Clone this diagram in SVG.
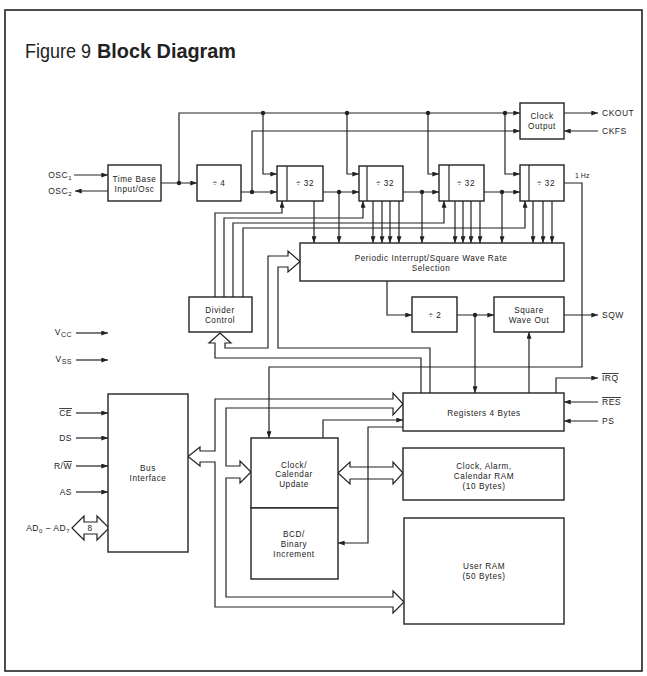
<svg xmlns="http://www.w3.org/2000/svg" width="647" height="676" viewBox="0 0 647 676">
<defs>
<marker id="ah" viewBox="0 0 8 6" refX="8" refY="3" markerWidth="7" markerHeight="5" markerUnits="userSpaceOnUse" orient="auto"><path d="M0,0 L8,3 L0,6 z" fill="#222"/></marker>
<style>
.l{fill:none;stroke:#222;stroke-width:1.2}
.a{marker-end:url(#ah)}
.bx{fill:#fff;stroke:#222;stroke-width:1.4}
.bus{fill:#fff;stroke:#222;stroke-width:1.2;stroke-linejoin:miter}
text{font-family:"Liberation Sans",Arial,sans-serif;fill:#222}
.t{font-size:8.2px;text-anchor:middle;letter-spacing:0.55px}
.p{font-size:8.5px;letter-spacing:0.5px}
.pe{font-size:8.5px;letter-spacing:0.5px;text-anchor:end}
.dot{fill:#222}
</style>
</defs>
<rect x="0" y="0" width="647" height="676" fill="#fff"/>
<rect x="5" y="10" width="637" height="661" fill="none" stroke="#222" stroke-width="1.6"/>
<text x="25" y="58" font-size="20" textLength="66" lengthAdjust="spacingAndGlyphs">Figure 9</text>
<text x="97" y="58" font-size="20" font-weight="bold" textLength="139" lengthAdjust="spacingAndGlyphs">Block Diagram</text>

<g id="connectors">
<path class="bus" d="M215,399 H393 V393 L403,404 L393,415 V408 H226 V466 H240 V461 L251,472 L240,483 V478 H226 V597 H393 V591 L404,602 L393,613 V607 H215 V462 H200 V466 L188,456.5 L200,447 V451 H215 Z"/>
<path class="l" d="M421,393 V358 H215 V343 H209 L220,333 L231,343 H225 V348 H268 V256 H288 V251 L300,261.5 L288,272 V267 H278 V348 H430 V393"/>
<path class="bus" d="M338,473 L350,462 V467 H393 V462 L403,473 L393,484 V479 H350 V484 Z"/>
<path class="bus" d="M72,528 L84,516 V522 H97 V516 L109,528 L97,540 V534 H84 V540 Z"/>
<path class="l a" d="M74,175 H108"/>
<path class="l a" d="M108,191 H75"/>
<path class="l a" d="M161,183 H197"/>
<path class="l a" d="M179,183 V113 H520"/>
<path class="l a" d="M252,192 V131 H520"/>
<path class="l a" d="M241,192 H277"/>
<path class="l a" d="M263,113 V174 H277"/>
<path class="l a" d="M323,192 H359"/>
<path class="l a" d="M347,113 V174 H359"/>
<path class="l a" d="M403,192 H439"/>
<path class="l a" d="M428,113 V174 H439"/>
<path class="l a" d="M484,192 H520"/>
<path class="l a" d="M505,113 V174 H520"/>
<path class="l a" d="M564,113 H598"/>
<path class="l a" d="M598,131 H564"/>
<path class="l a" d="M564,183 H582 V367 H269 V438"/>
<path class="l a" d="M314,201 V243"/>
<path class="l a" d="M339,192 V243"/>
<path class="l a" d="M373,201 V243"/>
<path class="l a" d="M382,201 V243"/>
<path class="l a" d="M390,201 V243"/>
<path class="l a" d="M399,201 V243"/>
<path class="l a" d="M422,192 V243"/>
<path class="l a" d="M455,201 V243"/>
<path class="l a" d="M463,201 V243"/>
<path class="l a" d="M471,201 V243"/>
<path class="l a" d="M480,201 V243"/>
<path class="l a" d="M502,192 V243"/>
<path class="l a" d="M533,201 V243"/>
<path class="l a" d="M543,201 V243"/>
<path class="l a" d="M552,201 V243"/>
<path class="l a" d="M215,297 V213 H282 V201"/>
<path class="l a" d="M224,297 V218 H363 V201"/>
<path class="l a" d="M233,297 V223 H444 V201"/>
<path class="l a" d="M243,297 V228 H525 V201"/>
<path class="l a" d="M387,281 V315 H412"/>
<path class="l a" d="M457,315 H494"/>
<path class="l a" d="M475,315 V393"/>
<path class="l a" d="M529,393 V332"/>
<path class="l a" d="M564,315 H598"/>
<path class="l a" d="M556,393 V378 H598"/>
<path class="l a" d="M598,402 H564"/>
<path class="l a" d="M598,421 H564"/>
<path class="l a" d="M323,438 V420 H403"/>
<path class="l a" d="M403,427 H368 V543 H338"/>
<path class="l a" d="M76,333 H108"/>
<path class="l a" d="M76,360 H108"/>
<path class="l a" d="M76,413 H108"/>
<path class="l a" d="M76,438 H108"/>
<path class="l a" d="M76,466 H108"/>
<path class="l a" d="M76,492 H108"/>
<circle class="dot" cx="179" cy="183" r="2.2"/>
<circle class="dot" cx="252" cy="192" r="2.2"/>
<circle class="dot" cx="263" cy="113" r="2.2"/>
<circle class="dot" cx="339" cy="192" r="2.2"/>
<circle class="dot" cx="347" cy="113" r="2.2"/>
<circle class="dot" cx="422" cy="192" r="2.2"/>
<circle class="dot" cx="428" cy="113" r="2.2"/>
<circle class="dot" cx="502" cy="192" r="2.2"/>
<circle class="dot" cx="505" cy="113" r="2.2"/>
<circle class="dot" cx="475" cy="315" r="2.2"/>
<text class="t" x="90" y="531">8</text>
</g>

<g id="timebase"><rect class="bx" x="108" y="165" width="53" height="36"/><text class="t" x="134.5" y="182">Time Base</text><text class="t" x="134.5" y="192">Input/Osc</text></g>
<g id="div4"><rect class="bx" x="197" y="165" width="44" height="36"/><text class="t" x="219" y="186">÷ 4</text></g>
<g id="div32a"><rect class="bx" x="277" y="166" width="46" height="35"/><path class="l" d="M287,166 V201"/><text class="t" x="305" y="186">÷ 32</text></g>
<g id="div32b"><rect class="bx" x="359" y="166" width="44" height="35"/><path class="l" d="M367,166 V201"/><text class="t" x="385" y="186">÷ 32</text></g>
<g id="div32c"><rect class="bx" x="439" y="165" width="45" height="36"/><path class="l" d="M449,165 V201"/><text class="t" x="466" y="186">÷ 32</text></g>
<g id="div32d"><rect class="bx" x="520" y="165" width="44" height="36"/><path class="l" d="M529,165 V201"/><text class="t" x="546" y="186">÷ 32</text></g>
<g id="clockout"><rect class="bx" x="520" y="103" width="44" height="36"/><text class="t" x="542" y="119">Clock</text><text class="t" x="542" y="129">Output</text></g>
<g id="periodic"><rect class="bx" x="300" y="243" width="264" height="38"/><text class="t" x="431" y="261">Periodic Interrupt/Square Wave Rate</text><text class="t" x="431" y="271">Selection</text></g>
<g id="divider"><rect class="bx" x="189" y="297" width="63" height="35"/><text class="t" x="220" y="313">Divider</text><text class="t" x="220" y="323">Control</text></g>
<g id="div2"><rect class="bx" x="412" y="297" width="45" height="35"/><text class="t" x="435" y="318">÷ 2</text></g>
<g id="sqwout"><rect class="bx" x="494" y="297" width="70" height="35"/><text class="t" x="529" y="313">Square</text><text class="t" x="529" y="323">Wave Out</text></g>
<g id="busif"><rect class="bx" x="108" y="394" width="80" height="158"/><text class="t" x="148" y="471">Bus</text><text class="t" x="148" y="481">Interface</text></g>
<g id="registers"><rect class="bx" x="403" y="393" width="161" height="38"/><text class="t" x="484" y="416">Registers 4 Bytes</text></g>
<g id="clockcal"><rect class="bx" x="251" y="438" width="87" height="70"/><text class="t" x="294" y="468">Clock/</text><text class="t" x="294" y="477">Calendar</text><text class="t" x="294" y="487">Update</text></g>
<g id="bcd"><rect class="bx" x="251" y="508" width="87" height="71"/><text class="t" x="294" y="537">BCD/</text><text class="t" x="294" y="547">Binary</text><text class="t" x="294" y="557">Increment</text></g>
<g id="calram"><rect class="bx" x="403" y="448" width="161" height="52"/><text class="t" x="484" y="469">Clock, Alarm,</text><text class="t" x="484" y="479">Calendar RAM</text><text class="t" x="484" y="489">(10 Bytes)</text></g>
<g id="userram"><rect class="bx" x="404" y="518" width="160" height="106"/><text class="t" x="484" y="569">User RAM</text><text class="t" x="484" y="579">(50 Bytes)</text></g>

<g id="pins">
<text class="pe" x="72" y="178">OSC<tspan font-size="6" dy="2">1</tspan></text>
<text class="pe" x="72" y="194">OSC<tspan font-size="6" dy="2">2</tspan></text>
<text class="p" x="602" y="116">CKOUT</text>
<text class="p" x="602" y="134">CKFS</text>
<text x="575" y="178" font-size="7">1 Hz</text>
<text class="p" x="602" y="318">SQW</text>
<text class="p" x="602" y="381"><tspan style="text-decoration:overline">IRQ</tspan></text>
<text class="p" x="602" y="405"><tspan style="text-decoration:overline">RES</tspan></text>
<text class="p" x="602" y="424">PS</text>
<text class="pe" x="72" y="335">V<tspan font-size="7" dy="2">CC</tspan></text>
<text class="pe" x="72" y="362">V<tspan font-size="7" dy="2">SS</tspan></text>
<text class="pe" x="72" y="416"><tspan style="text-decoration:overline">CE</tspan></text>
<text class="pe" x="72" y="441">DS</text>
<text class="pe" x="72" y="469">R/<tspan style="text-decoration:overline">W</tspan></text>
<text class="pe" x="72" y="495">AS</text>
<text class="pe" x="70" y="531">AD<tspan font-size="6" dy="2">0</tspan><tspan dy="-2"> – AD</tspan><tspan font-size="6" dy="2">7</tspan></text>
</g>
</svg>
